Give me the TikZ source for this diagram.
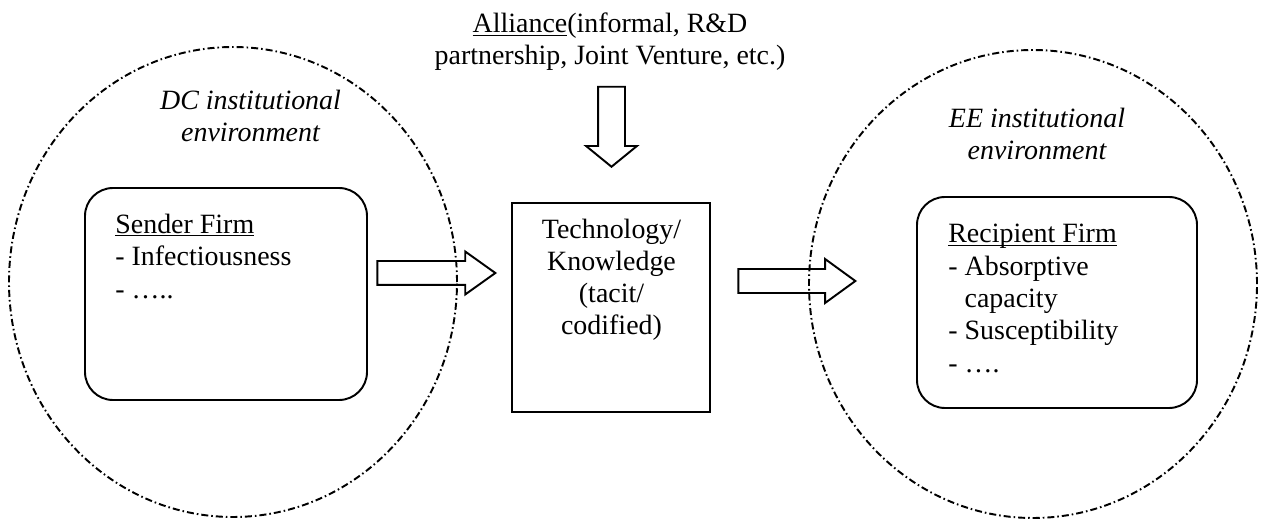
\documentclass[tikz,border=0pt]{standalone}
\usepackage{fontspec}
\setmainfont{Liberation Serif}
\usetikzlibrary{shapes.arrows}

\newcommand{\ulword}[1]{\underline{\smash{#1}}}

\begin{document}
\begin{tikzpicture}[x=0.02cm, y=-0.02cm,
    envline/.style={line width=1.1pt, dash pattern=on 4pt off 1.7pt on 0.9pt off 1.7pt},
    firmbox/.style={draw, line width=1.1pt, rounded corners=0.56cm, inner sep=0pt},
    techbox/.style={draw, line width=1.1pt, inner sep=0pt},
    lbl/.style={inner sep=0pt, font=\fontsize{15.9pt}{18.4pt}\selectfont},
    envlbl/.style={lbl, align=center, anchor=base, font=\fontsize{15.9pt}{18.4pt}\selectfont\itshape},
    fatarrow/.style={single arrow, draw, line width=1.1pt, inner xsep=0pt, anchor=tip}]

    % one unit = one pixel of the 1261 x 520 frame
    \def\px{0.02cm}
    \useasboundingbox (0,0) rectangle (1261,520);

    % Institutional environments (base = last line)
    \draw[envline] (233,282) ellipse [x radius=224*\px, y radius=235*\px];
    \draw[envline] (1033,284) ellipse [x radius=224*\px, y radius=234*\px];
    \node[envlbl] (dcenv) at (250.5,142) {DC institutional\\environment};
    \node[envlbl] (eeenv) at (1037,160) {EE institutional\\environment};

    % Firms and what is transferred
    \node[firmbox, minimum width=282*\px, minimum height=212*\px] (sender) at (226,294) {};
    \node[techbox, minimum width=198*\px, minimum height=209*\px] (tech) at (611,307.5) {};
    \node[firmbox, minimum width=280*\px, minimum height=211*\px] (recip) at (1057,302.5) {};

    \node[lbl, align=left, anchor=base west] (sendertxt) at (115,298)
        {\ulword{Sender Firm}\\- Infectiousness\\- …..};
    \node[lbl, align=center, anchor=base] (techtxt) at (611.5,335)
        {Technology/\\Knowledge\\(tacit/\\codified)};
    \node[lbl, align=left, anchor=base west] (reciptxt) at (948,372)
        {\ulword{Recipient Firm}\\- Absorptive\\\phantom{- }capacity\\- Susceptibility\\- ….};

    % Alliance on top
    \node[lbl, align=center, anchor=base] (alliance) at (610,65)
        {\ulword{Alliance}(informal, R\&D\\partnership, Joint Venture, etc.)};

    % Block arrows
    \node[fatarrow, minimum height=80*\px, minimum width=49*\px, inner ysep=12.5*\px,
        single arrow head extend=12*\px, single arrow tip angle=101.6, rotate=-90] (pushdown) at (611.5,168) {};
    \node[fatarrow, minimum height=118*\px, minimum width=41*\px, inner ysep=11*\px,
        single arrow head extend=9.5*\px, single arrow tip angle=71] (flowin) at (497,273) {};
    \node[fatarrow, minimum height=117*\px, minimum width=42*\px, inner ysep=11*\px,
        single arrow head extend=10*\px, single arrow tip angle=72] (flowout) at (857,281) {};

\end{tikzpicture}
\end{document}
